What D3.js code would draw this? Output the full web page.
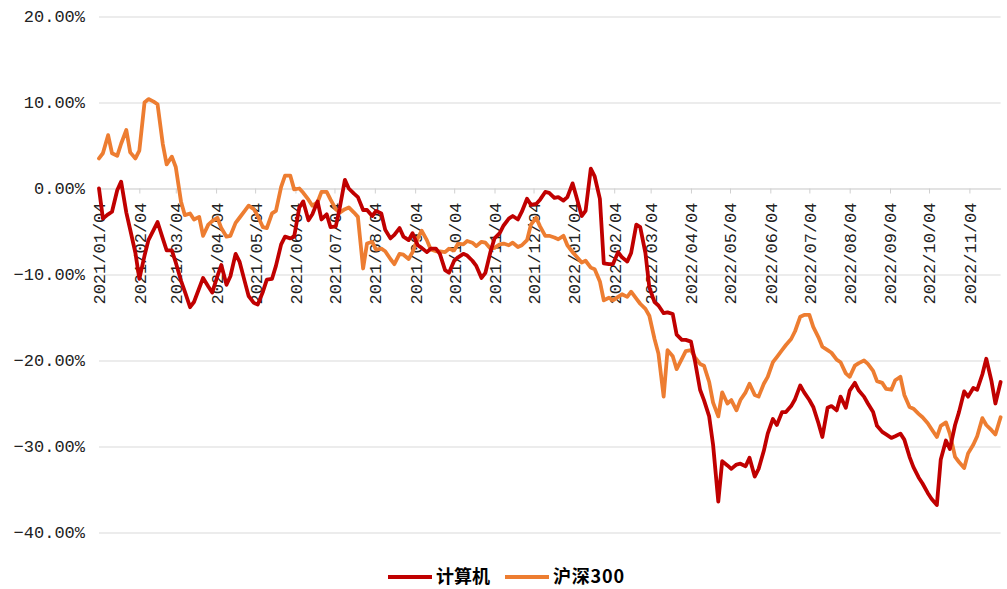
<!DOCTYPE html>
<html><head><meta charset="utf-8">
<script src="https://cdn.jsdelivr.net/npm/d3@7/dist/d3.min.js"></script>
<style>
html,body{margin:0;padding:0;background:#fff;}
svg{display:block;}
</style></head>
<body>
<svg id="chart" width="1007" height="589"></svg>
<script>
// ---- data ----
const seriesNames = ["计算机", "沪深300"];
const seriesColors = ["#C00000", "#ED7D31"];
const dates = [
"2021-01-04","2021-01-07","2021-01-11","2021-01-14","2021-01-18","2021-01-21","2021-01-25","2021-01-28",
"2021-02-01","2021-02-04","2021-02-08","2021-02-11","2021-02-15","2021-02-18","2021-02-22","2021-02-25",
"2021-03-01","2021-03-04","2021-03-08","2021-03-11","2021-03-15","2021-03-18","2021-03-22","2021-03-25",
"2021-03-29","2021-04-01","2021-04-05","2021-04-08","2021-04-12","2021-04-15","2021-04-19","2021-04-22",
"2021-04-26","2021-04-29","2021-05-03","2021-05-06","2021-05-10","2021-05-13","2021-05-17","2021-05-20",
"2021-05-24","2021-05-27","2021-05-31","2021-06-03","2021-06-07","2021-06-10","2021-06-14","2021-06-17",
"2021-06-21","2021-06-24","2021-06-28","2021-07-01","2021-07-05","2021-07-08","2021-07-12","2021-07-15",
"2021-07-19","2021-07-22","2021-07-26","2021-07-29","2021-08-02","2021-08-05","2021-08-09","2021-08-12",
"2021-08-16","2021-08-19","2021-08-23","2021-08-26","2021-08-30","2021-09-02","2021-09-06","2021-09-09",
"2021-09-13","2021-09-16","2021-09-20","2021-09-23","2021-09-27","2021-09-30","2021-10-04","2021-10-07",
"2021-10-11","2021-10-14","2021-10-18","2021-10-21","2021-10-25","2021-10-28","2021-11-01","2021-11-04",
"2021-11-08","2021-11-11","2021-11-15","2021-11-18","2021-11-22","2021-11-25","2021-11-29","2021-12-02",
"2021-12-06","2021-12-09","2021-12-13","2021-12-16","2021-12-20","2021-12-23","2021-12-27","2021-12-30",
"2022-01-03","2022-01-06","2022-01-10","2022-01-13","2022-01-17","2022-01-20","2022-01-24","2022-01-27",
"2022-01-31","2022-02-03","2022-02-07","2022-02-10","2022-02-14","2022-02-17","2022-02-21","2022-02-24",
"2022-02-28","2022-03-03","2022-03-07","2022-03-10","2022-03-14","2022-03-17","2022-03-21","2022-03-24",
"2022-03-28","2022-03-31","2022-04-04","2022-04-07","2022-04-11","2022-04-14","2022-04-18","2022-04-21",
"2022-04-25","2022-04-28","2022-05-02","2022-05-05","2022-05-09","2022-05-12","2022-05-16","2022-05-19",
"2022-05-23","2022-05-26","2022-05-30","2022-06-02","2022-06-06","2022-06-09","2022-06-13","2022-06-16",
"2022-06-20","2022-06-23","2022-06-27","2022-06-30","2022-07-04","2022-07-07","2022-07-11","2022-07-14",
"2022-07-18","2022-07-21","2022-07-25","2022-07-28","2022-08-01","2022-08-04","2022-08-08","2022-08-11",
"2022-08-15","2022-08-18","2022-08-22","2022-08-25","2022-08-29","2022-09-01","2022-09-05","2022-09-08",
"2022-09-12","2022-09-15","2022-09-19","2022-09-22","2022-09-26","2022-09-29","2022-10-03","2022-10-06",
"2022-10-10","2022-10-13","2022-10-17","2022-10-20","2022-10-24","2022-10-27","2022-10-31","2022-11-03",
"2022-11-07","2022-11-10","2022-11-14","2022-11-17","2022-11-21","2022-11-24","2022-11-28"
];
const computerValues = [
0.0,-3.5,-3.0,-2.7,-0.2,0.8,-2.8,-4.8,
-7.5,-10.5,-7.8,-6.0,-4.8,-3.9,-5.8,-7.2,
-7.2,-8.6,-10.7,-12.0,-13.8,-13.2,-11.6,-10.4,
-11.4,-12.1,-10.2,-8.9,-11.2,-10.2,-7.6,-8.5,
-10.8,-12.5,-13.3,-13.5,-12.0,-10.6,-10.5,-9.0,
-6.5,-5.6,-5.8,-5.6,-2.2,-1.5,-3.7,-3.0,
-1.5,-3.6,-3.0,-4.5,-4.4,-2.3,1.0,0.0,
-0.6,-1.0,-2.5,-2.5,-3.2,-2.6,-2.9,-4.8,
-5.8,-5.4,-4.6,-5.6,-6.0,-5.2,-6.6,-6.9,
-7.4,-7.0,-7.0,-7.6,-9.5,-9.8,-8.4,-8.0,
-7.6,-7.8,-8.4,-9.0,-10.4,-9.8,-7.3,-5.8,
-5.2,-4.3,-3.5,-3.2,-3.6,-2.7,-1.2,-1.9,
-1.8,-1.3,-0.4,-0.5,-1.1,-1.0,-1.4,-1.0,
0.6,-1.0,-3.2,-2.6,2.3,1.4,-1.2,-8.7,
-8.8,-8.8,-7.4,-8.0,-8.5,-7.5,-4.2,-4.5,
-7.5,-11.5,-13.2,-13.6,-14.5,-14.4,-14.6,-17.0,
-17.6,-17.6,-17.8,-20.0,-23.4,-24.6,-26.5,-29.8,
-36.4,-31.7,-32.2,-32.6,-32.1,-32.0,-32.3,-31.3,
-33.5,-32.6,-30.5,-28.5,-26.8,-27.5,-26.0,-26.0,
-25.3,-24.5,-22.9,-23.7,-24.6,-25.4,-27.3,-28.9,
-25.5,-25.3,-25.8,-24.2,-25.5,-23.5,-22.6,-23.5,
-24.2,-25.0,-26.0,-27.6,-28.3,-28.6,-29.0,-28.8,
-28.5,-29.2,-31.2,-32.4,-33.6,-34.3,-35.4,-36.1,
-36.8,-31.5,-29.3,-30.3,-27.5,-26.0,-23.6,-24.2,
-23.2,-23.4,-21.6,-19.8,-22.4,-25.0,-22.5
];
const hs300Values = [
3.5,4.1,6.2,4.1,3.8,5.2,6.8,4.2,
3.5,4.4,10.0,10.4,10.1,9.8,5.2,2.8,
3.7,2.5,-1.5,-3.1,-2.9,-3.6,-3.3,-5.5,
-4.2,-3.8,-3.4,-4.6,-5.6,-5.5,-4.0,-3.4,
-2.6,-2.0,-2.4,-3.2,-4.5,-4.6,-2.9,-2.6,
0.2,1.5,1.5,-0.1,0.0,-0.5,-1.3,-2.0,
-1.6,-0.4,-0.4,-1.3,-2.4,-2.8,-2.4,-2.2,
-2.8,-3.3,-9.3,-6.4,-6.2,-7.1,-7.0,-7.3,
-8.2,-8.8,-7.6,-7.7,-8.2,-7.4,-5.8,-4.9,
-6.0,-7.1,-7.3,-7.3,-7.4,-7.0,-7.2,-6.4,
-6.5,-6.1,-6.3,-6.7,-6.2,-6.3,-7.0,-6.9,
-6.5,-6.4,-6.6,-6.3,-6.8,-6.6,-6.0,-4.2,
-3.4,-4.4,-5.5,-5.5,-5.7,-5.9,-5.5,-6.6,
-7.4,-7.9,-8.6,-8.4,-9.2,-9.4,-10.8,-13.0,
-12.7,-13.0,-12.6,-12.3,-12.6,-12.0,-12.8,-13.4,
-14.0,-14.8,-17.5,-19.2,-24.2,-18.8,-19.5,-21.0,
-19.8,-18.9,-18.8,-19.6,-20.4,-20.6,-22.5,-24.9,
-26.5,-23.7,-25.0,-24.6,-25.8,-24.6,-23.7,-22.7,
-24.0,-24.2,-22.7,-21.9,-20.2,-19.6,-18.8,-18.2,
-17.5,-16.6,-14.9,-14.7,-14.7,-16.1,-17.3,-18.4,
-18.8,-19.1,-19.9,-20.2,-21.5,-21.9,-20.6,-20.3,
-20.0,-20.4,-21.2,-22.4,-22.6,-23.3,-23.4,-22.3,
-21.9,-24.0,-25.4,-25.6,-26.2,-26.6,-27.3,-28.0,
-28.9,-27.6,-27.2,-28.5,-31.2,-31.8,-32.5,-30.8,
-29.8,-28.8,-26.7,-27.5,-28.1,-28.6,-26.6
];
const xTickLabels = [
"2021/01/04","2021/02/04","2021/03/04","2021/04/04","2021/05/04","2021/06/04",
"2021/07/04","2021/08/04","2021/09/04","2021/10/04","2021/11/04","2021/12/04",
"2022/01/04","2022/02/04","2022/03/04","2022/04/04","2022/05/04","2022/06/04",
"2022/07/04","2022/08/04","2022/09/04","2022/10/04","2022/11/04"
];
const yTicks = [20, 10, 0, -10, -20, -30, -40];

// ---- drawing ----
const svg = d3.select("#chart");
const plotLeft = 99, plotRight = 1000.6, plotTop = 16.5, plotBottom = 532.5;
const parseD = d3.timeParse("%Y-%m-%d");
const parseT = d3.timeParse("%Y/%m/%d");
const dts = dates.map(parseD);

const x = d3.scaleTime().domain([dts[0], dts[dts.length - 1]]).range([plotLeft, plotRight]);
const y = d3.scaleLinear().domain([-40, 20]).range([plotBottom, plotTop]);

svg.append("rect").attr("width", 1007).attr("height", 589).attr("fill", "#fff");

const monoFont = "'Liberation Mono', 'DejaVu Sans Mono', monospace";

// y axis + gridlines
const yAxis = svg.append("g")
  .attr("transform", `translate(${plotLeft},0)`)
  .call(d3.axisLeft(y).tickValues(yTicks)
    .tickSizeInner(-(plotRight - plotLeft)).tickSizeOuter(0).tickPadding(14)
    .tickFormat(d => d3.format(".2f")(d) + "%"));
yAxis.select(".domain").remove();
yAxis.selectAll(".tick line").attr("stroke", "#d9d9d9").attr("stroke-width", 1);
yAxis.selectAll(".tick text")
  .attr("font-family", monoFont).attr("font-size", 17).attr("fill", "#222");

// x axis at zero line
const xAxis = svg.append("g")
  .attr("transform", `translate(0,${y(0)})`)
  .call(d3.axisBottom(x).tickValues(xTickLabels.map(parseT))
    .tickSizeInner(5).tickSizeOuter(0)
    .tickFormat((d, i) => xTickLabels[i]));
xAxis.select(".domain").attr("stroke", "#d9d9d9");
xAxis.selectAll(".tick line").attr("stroke", "#d0d0d0");
xAxis.selectAll(".tick text")
  .attr("font-family", monoFont).attr("font-size", 17).attr("fill", "#222")
  .attr("text-anchor", "end")
  .attr("transform", "rotate(-90)")
  .attr("x", -14).attr("y", 0).attr("dy", "0.35em");

// lines
const seriesData = [computerValues, hs300Values];
const line = d3.line().x((d, i) => x(dts[i])).y(d => y(d));
[1, 0].forEach(s => {
  svg.append("path")
    .datum(seriesData[s])
    .attr("fill", "none")
    .attr("stroke", seriesColors[s])
    .attr("stroke-width", 3.8)
    .attr("stroke-linejoin", "round")
    .attr("stroke-linecap", "round")
    .attr("d", line);
});

// legend
const legend = svg.append("g").attr("transform", "translate(388,577)");
const legendOffsets = [0, 117];
seriesNames.forEach((name, i) => {
  const g = legend.append("g").attr("transform", `translate(${legendOffsets[i]},0)`);
  g.append("line").attr("x1", 0).attr("x2", 44).attr("y1", 0).attr("y2", 0)
    .attr("stroke", seriesColors[i]).attr("stroke-width", 4);
  g.append("text").attr("x", 48).attr("y", 0).attr("dy", "0.36em")
    .attr("font-family", "'Noto Sans CJK SC', sans-serif")
    .attr("font-weight", "bold").attr("font-size", 18).attr("fill", "#000")
    .attr("letter-spacing", i === 1 ? 0.8 : 0)
    .text(name);
});
</script>
</body></html>
